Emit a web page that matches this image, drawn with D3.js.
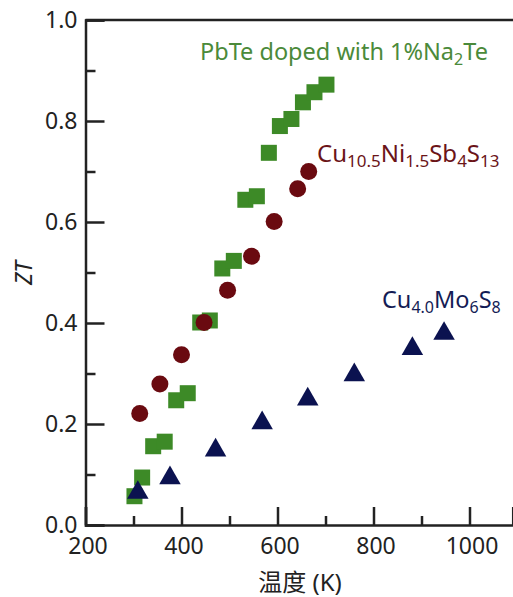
<!DOCTYPE html>
<html><head><meta charset="utf-8">
<script src="https://cdn.jsdelivr.net/npm/d3@7"></script>
<style>
body{margin:0;background:#fff;}
svg{display:block;font-family:"Noto Sans","Noto Sans CJK SC",sans-serif;}
</style></head>
<body>
<script>
// ---- data ----
const pbteT  = [302,318,341,365,389,413,439,459,485,509,533,557,582,605,629,653,677,702];
const pbteZT = [0.057,0.094,0.156,0.165,0.247,0.261,0.401,0.405,0.508,0.523,0.644,0.651,0.737,0.790,0.804,0.837,0.857,0.872];
const cuniT  = [313,355,400,447,496,546,593,642,665];
const cuniZT = [0.221,0.279,0.337,0.401,0.465,0.532,0.601,0.666,0.700];
const cumoT  = [309,376,471,568,663,760,881,947];
const cumoZT = [0.068,0.097,0.152,0.206,0.253,0.301,0.353,0.383];
const xMajor = [200,400,600,800,1000];
const xMinor = [300,500,700,900];
const yMajor = [0.0,0.2,0.4,0.6,0.8,1.0];
const yMinor = [0.1,0.3,0.5,0.7,0.9];

const W = 513, H = 597;
const svg = d3.select("body").append("svg").attr("width", W).attr("height", H);

const x = d3.scaleLinear().domain([200, 1090]).range([85.5, 512.7]);
const y = d3.scaleLinear().domain([0, 1]).range([525, 20]);

const axisColor = "#222";
// top frame line
svg.append("line").attr("x1", x(200)).attr("x2", W).attr("y1", y(1)).attr("y2", y(1))
  .attr("stroke", axisColor).attr("stroke-width", 2.5);

// y axis
const gy = svg.append("g").attr("transform", `translate(${x(200)},0)`);
gy.call(d3.axisLeft(y).tickValues(yMajor).tickFormat(d3.format(".1f")).tickSize(-19).tickPadding(8));
gy.append("g").call(d3.axisLeft(y).tickValues(yMinor).tickFormat("").tickSize(-10));
gy.selectAll("path.domain").filter((d,i)=>i>0).remove();

// x axis
const gx = svg.append("g").attr("transform", `translate(0,${y(0)})`);
gx.call(d3.axisBottom(x).tickValues(xMajor).tickFormat(d3.format("d")).tickSize(-18).tickPadding(13));
gx.append("g").call(d3.axisBottom(x).tickValues(xMinor).tickFormat("").tickSize(-9));
gx.selectAll("path.domain").filter((d,i)=>i>0).remove();

svg.selectAll(".domain").attr("stroke", axisColor).attr("stroke-width", 2.5);
svg.selectAll(".tick line").attr("stroke", axisColor).attr("stroke-width", 2.5);
svg.selectAll(".tick text").attr("fill", "#222").attr("font-size", 23)
  .attr("font-family", "'Noto Sans',sans-serif");
// nudge x tick labels slightly right, as in the reference
gx.selectAll(".tick text").attr("dx", 2);

// axis titles
svg.append("text").attr("x", 300).attr("y", 591).attr("text-anchor", "middle")
  .attr("font-size", 24).attr("fill", "#222").text("温度 (K)");
svg.append("text").attr("transform", "translate(32,273) rotate(-90)").attr("text-anchor", "middle")
  .attr("font-size", 23).attr("font-style", "italic").attr("fill", "#222").text("ZT");

// markers
const green = "#3d8a27", red = "#6a0a10", navy = "#0b1250";
const sq = 16;
svg.append("g").selectAll("rect").data(pbteT.map((t,i)=>[t,pbteZT[i]])).join("rect")
  .attr("x", d=>x(d[0])-sq/2).attr("y", d=>y(d[1])-sq/2).attr("width", sq).attr("height", sq)
  .attr("fill", green);
svg.append("g").selectAll("circle").data(cuniT.map((t,i)=>[t,cuniZT[i]])).join("circle")
  .attr("cx", d=>x(d[0])).attr("cy", d=>y(d[1])).attr("r", 8.5).attr("fill", red);
const tri = d3.symbol().type(d3.symbolTriangle).size(200);
svg.append("g").selectAll("path").data(cumoT.map((t,i)=>[t,cumoZT[i]])).join("path")
  .attr("d", tri).attr("transform", d=>`translate(${x(d[0])},${y(d[1])+2})`).attr("fill", navy);

// labels with subscripts
function label(xp, yp, color, size, subSize, parts){
  const t = svg.append("text").attr("x", xp).attr("y", yp).attr("fill", color).attr("font-size", size);
  parts.forEach(p=>{
    const s = t.append("tspan").text(p[0]);
    if(p[1]) s.attr("font-size", subSize).attr("dy", 5);
    else if(p[2]) s.attr("dy", -5);
  });
}
label(200, 60, "#4b8a3a", 23.5, 16, [["PbTe doped with 1%Na"],["2",1],["Te",0,1]]);
label(317, 162, "#6b1418", 24, 17, [["Cu"],["10.5",1],["Ni",0,1],["1.5",1],["Sb",0,1],["4",1],["S",0,1],["13",1]]);
label(382, 308, "#141c55", 23.5, 16, [["Cu"],["4.0",1],["Mo",0,1],["6",1],["S",0,1],["8",1]]);
</script>
</body></html>
